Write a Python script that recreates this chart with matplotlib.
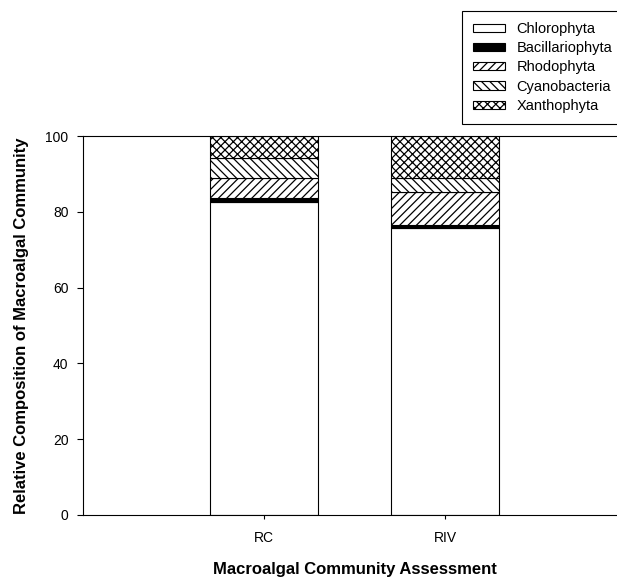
import numpy as np
import matplotlib.pyplot as plt

# Relative composition (%) of each group at the two sites
sites = ['RC', 'RIV']
groups = ['Chlorophyta', 'Bacillariophyta', 'Rhodophyta', 'Cyanobacteria', 'Xanthophyta']
chlorophyta = [82.6, 75.6]
bacillariophyta = [1.0, 0.8]
rhodophyta = [5.3, 8.7]
cyanobacteria = [5.4, 3.7]
xanthophyta = [5.7, 11.2]

values = [chlorophyta, bacillariophyta, rhodophyta, cyanobacteria, xanthophyta]
fills = ['white', 'black', 'white', 'white', 'white']
hatches = [None, None, '////', '\\\\\\\\', 'xxxx']

plt.rcParams['font.family'] = ['Liberation Sans', 'DejaVu Sans']
plt.rcParams['hatch.linewidth'] = 0.9

fig = plt.figure(figsize=(6.17, 5.8), dpi=100)
ax = fig.add_axes([83/617, 65/580, 543/617, 379/580])

x = np.arange(1, len(sites) + 1)
bottom = np.zeros(len(sites))
for name, vals, fc, h in zip(groups, values, fills, hatches):
    ax.bar(x, vals, 0.6, bottom=bottom, color=fc, edgecolor='black',
           linewidth=0.8, hatch=h, label=name)
    bottom += np.array(vals)

ax.set_xlim(0, 3)
ax.set_ylim(0, 100)
ax.set_xticks(x)
ax.set_xticklabels(sites)
ax.set_yticks(np.arange(0, 101, 20))
ax.tick_params(axis='both', direction='out', labelsize=10, width=0.8)
ax.tick_params(axis='y', length=4.5, pad=6)
ax.tick_params(axis='x', length=3, pad=8.5)
ax.spines['right'].set_visible(False)
for s in ['left', 'bottom', 'top']:
    ax.spines[s].set_linewidth(0.8)

ax.set_xlabel('Macroalgal Community Assessment', fontsize=12, fontweight='bold', labelpad=12)
ax.set_ylabel('Relative Composition of Macroalgal Community', fontsize=12,
              fontweight='bold', labelpad=12)

leg = fig.legend(loc='upper left', bbox_to_anchor=(462/617, 1 - 11/580),
                 fontsize=10.5, fancybox=False, edgecolor='black', framealpha=1,
                 handlelength=2.2, handleheight=0.5, labelspacing=0.36,
                 borderpad=0.75, handletextpad=0.8, borderaxespad=0)
leg.get_frame().set_linewidth(0.8)

fig.savefig('out.png', dpi=100)
